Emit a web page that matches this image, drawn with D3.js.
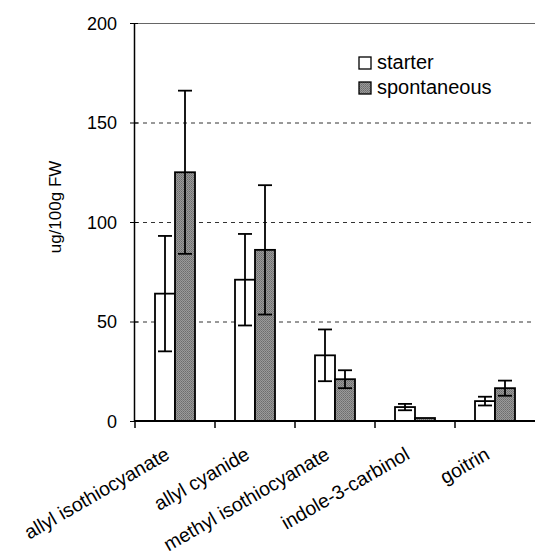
<!DOCTYPE html>
<html>
<head>
<meta charset="utf-8">
<script src="https://cdn.jsdelivr.net/npm/d3@7"></script>
<style>
  body { margin: 0; background: #fff; }
  text { font-family: "Liberation Sans", Arial, sans-serif; fill: #000; }
</style>
</head>
<body>
<div id="chart"></div>
<script>
const categories = ["allyl isothiocyanate", "allyl cyanide", "methyl isothiocyanate", "indole-3-carbinol", "goitrin"];
const series = ["starter", "spontaneous"];
const starterValues = [64, 71, 33, 7, 10];
const starterErrors = [29, 23, 13, 1.6, 2.2];
const spontaneousValues = [125, 86, 21, 1.5, 16.5];
const spontaneousErrors = [41, 32.5, 4.5, 0, 3.8];
const yTicks = [0, 50, 100, 150, 200];

const fullWidth = 535;
const fullHeight = 557;
const margin = { top: 23, right: 0, bottom: 136, left: 135 };
const width = fullWidth - margin.left - margin.right;
const height = fullHeight - margin.top - margin.bottom;

const svg = d3.select('#chart')
  .append('svg')
  .attr('width', fullWidth)
  .attr('height', fullHeight);

const defs = svg.append('defs');
const pat = defs.append('pattern')
  .attr('id', 'grain')
  .attr('width', 2)
  .attr('height', 2)
  .attr('patternUnits', 'userSpaceOnUse');
pat.append('rect').attr('width', 2).attr('height', 2).attr('fill', '#9a9a9a');
pat.append('rect').attr('width', 1).attr('height', 1).attr('fill', '#6c6c6c');
pat.append('rect').attr('x', 1).attr('y', 1).attr('width', 1).attr('height', 1).attr('fill', '#7a7a7a');

const rows = categories.map((c, i) => ({
  category: c,
  values: [
    { key: 'starter', value: starterValues[i], err: starterErrors[i] },
    { key: 'spontaneous', value: spontaneousValues[i], err: spontaneousErrors[i] }
  ]
}));

const g = svg.append('g')
  .attr('transform', `translate(${margin.left}, ${margin.top})`);

const x0 = d3.scaleBand()
  .domain(categories)
  .range([0, width]);

const x1 = d3.scaleBand()
  .domain(series)
  .range([20, 60]);

const y = d3.scaleLinear()
  .domain([0, 200])
  .range([height, 0]);

const fills = { starter: '#fff', spontaneous: 'url(#grain)' };

// gridlines
g.append('g')
  .selectAll('line')
  .data(yTicks.filter(t => t > 0))
  .join('line')
  .attr('x1', 0)
  .attr('x2', width)
  .attr('y1', d => y(d) + 0.5)
  .attr('y2', d => y(d) + 0.5)
  .attr('stroke', d => d === 200 ? '#666' : '#333')
  .attr('stroke-width', 1)
  .attr('stroke-dasharray', d => d === 200 ? null : '4,4');

// bars
const groups = g.append('g')
  .selectAll('g')
  .data(rows)
  .join('g')
  .attr('transform', d => `translate(${x0(d.category)}, 0)`);

groups.selectAll('rect')
  .data(d => d.values)
  .join('rect')
  .attr('x', d => x1(d.key))
  .attr('y', d => y(d.value))
  .attr('width', x1.bandwidth())
  .attr('height', d => y(0) - y(d.value))
  .attr('fill', d => fills[d.key])
  .attr('stroke', '#000')
  .attr('stroke-width', 1.8);

// error bars
const capHalf = 7;
const errs = groups.selectAll('g.err')
  .data(d => d.values.filter(v => v.err > 0))
  .join('g')
  .attr('class', 'err')
  .attr('stroke', '#000')
  .attr('stroke-width', 1.8);

errs.append('line')
  .attr('x1', d => x1(d.key) + x1.bandwidth() / 2)
  .attr('x2', d => x1(d.key) + x1.bandwidth() / 2)
  .attr('y1', d => y(d.value + d.err))
  .attr('y2', d => y(d.value - d.err));

errs.append('line')
  .attr('x1', d => x1(d.key) + x1.bandwidth() / 2 - capHalf)
  .attr('x2', d => x1(d.key) + x1.bandwidth() / 2 + capHalf)
  .attr('y1', d => y(d.value + d.err))
  .attr('y2', d => y(d.value + d.err));

errs.append('line')
  .attr('x1', d => x1(d.key) + x1.bandwidth() / 2 - capHalf)
  .attr('x2', d => x1(d.key) + x1.bandwidth() / 2 + capHalf)
  .attr('y1', d => y(d.value - d.err))
  .attr('y2', d => y(d.value - d.err));

// y axis
const yAxis = d3.axisLeft(y)
  .tickValues(yTicks)
  .tickSizeInner(4)
  .tickSizeOuter(0)
  .tickPadding(13);

const ya = g.append('g')
  .attr('transform', 'translate(-1, 0)')
  .call(yAxis);
ya.select('.domain').attr('stroke-width', 1.5);
ya.selectAll('.tick line').attr('x2', 4).attr('x1', -4);
ya.selectAll('.tick text')
  .style('font-size', '18px')
  .attr('dy', '0.36em');

// x axis
const xa = g.append('g')
  .attr('transform', `translate(0, ${height})`);
xa.append('line')
  .attr('x1', -1)
  .attr('x2', width)
  .attr('stroke', '#000')
  .attr('stroke-width', 2);
xa.selectAll('line.tk')
  .data(categories)
  .join('line')
  .attr('class', 'tk')
  .attr('x1', d => x0(d))
  .attr('x2', d => x0(d))
  .attr('y1', 0)
  .attr('y2', 7)
  .attr('stroke', '#000')
  .attr('stroke-width', 1.5);

xa.selectAll('text')
  .data(categories)
  .join('text')
  .attr('transform', d => `translate(${x0(d) + x0.bandwidth() / 2 - 4}, 37) rotate(-30)`)
  .attr('text-anchor', 'end')
  .style('font-size', '19.5px')
  .text(d => d);

// y title
svg.append('text')
  .attr('transform', 'translate(61, 207) rotate(-90)')
  .attr('text-anchor', 'middle')
  .style('font-size', '17px')
  .text('ug/100g FW');

// legend
const legend = svg.append('g')
  .attr('transform', 'translate(359, 57)');
const li = legend.selectAll('g')
  .data(series)
  .join('g')
  .attr('transform', (d, i) => `translate(0, ${i * 25})`);
li.append('rect')
  .attr('width', 12)
  .attr('height', 12)
  .attr('fill', d => fills[d])
  .attr('stroke', '#000')
  .attr('stroke-width', 1.3);
li.append('text')
  .attr('x', 18)
  .attr('y', 12)
  .style('font-size', '20px')
  .text(d => d);
</script>
</body>
</html>
